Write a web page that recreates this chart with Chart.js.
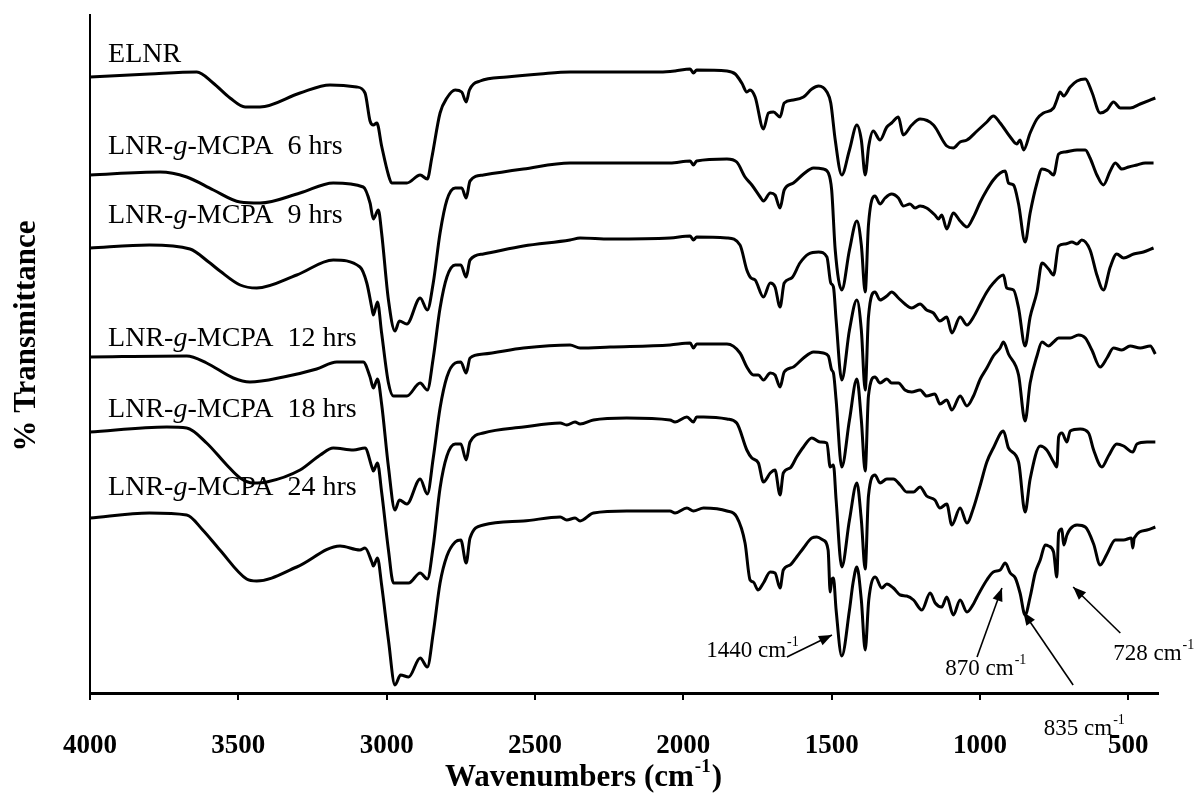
<!DOCTYPE html>
<html>
<head>
<meta charset="utf-8">
<script src="https://cdn.jsdelivr.net/npm/chart.js@4.4.0/dist/chart.umd.min.js"></script>
<style>
  html, body { margin: 0; padding: 0; background: #fff; }
  #wrap { width: 1198px; height: 793px; }
</style>
</head>
<body>
<div id="wrap"><canvas id="ftir" width="1198" height="793"></canvas></div>
<script>
// FTIR spectra, stacked. Each series: [wavenumber (cm-1), signal (a.u., offset per trace)]
const tickValues = [4000, 3500, 3000, 2500, 2000, 1500, 1000, 500];
const seriesNames = ['ELNR', 'LNR-g-MCPA  6 hrs', 'LNR-g-MCPA  9 hrs',
  'LNR-g-MCPA  12 hrs', 'LNR-g-MCPA  18 hrs', 'LNR-g-MCPA  24 hrs'];

const elnr = [[4000,616],[3800,619],[3640,621],[3585,610],[3528,595],[3477,586],[3427,586],[3292,600],
  [3191,608],[3101,606],[3073,600],[3056,572],[3045,568],[3033,570],[3017,547],[2994,518],[2983,510],
  [2932,510],[2887,518],[2863,514],[2848,535],[2820,580],[2797,595],[2769,603],[2747,601],[2732,591],
  [2721,603],[2685,612],[2595,616],[2483,619],[2382,621],[2247,621],[2078,621],[2028,622],[1977,624],
  [1966,620],[1955,623],[1853,622],[1825,619],[1803,610],[1786,601],[1775,603],[1758,596],[1730,564],
  [1713,580],[1696,581],[1674,576],[1660,590],[1629,593],[1595,596],[1567,604],[1544,607],[1516,601],
  [1503,590],[1488,553],[1466,518],[1440,543],[1415,568],[1400,553],[1387,518],[1375,547],[1360,562],
  [1337,553],[1314,566],[1298,570],[1275,576],[1259,558],[1230,568],[1202,574],[1157,568],[1112,547],
  [1090,545],[1067,551],[1044,553],[1010,562],[977,571],[955,577],[932,570],[898,556],[876,549],
  [865,553],[853,543],[831,560],[808,574],[786,580],[752,585],[741,593],[730,601],[718,597],[696,606],
  [673,612],[645,614],[623,601],[595,580],[572,583],[550,591],[527,585],[494,585],[460,589],[426,593],
  [409,595]];

const mcpa6h = [[4000,518],[3764,521],[3674,516],[3584,503],[3494,491],[3427,490],[3292,500],[3180,510],
  [3079,506],[3056,490],[3045,474],[3028,483],[3017,460],[2994,393],[2972,362],[2957,372],[2932,369],
  [2887,395],[2863,383],[2843,410],[2820,460],[2797,493],[2769,505],[2747,505],[2732,495],[2719,512],
  [2674,518],[2539,524],[2382,530],[2247,530],[2045,530],[1977,532],[1966,528],[1955,532],[1853,534],
  [1820,531],[1792,516],[1769,508],[1741,496],[1730,492],[1707,500],[1691,498],[1674,485],[1660,503],
  [1629,510],[1595,519],[1561,525],[1528,524],[1511,520],[1500,503],[1488,443],[1466,403],[1440,443],
  [1415,472],[1400,448],[1387,401],[1376,468],[1354,497],[1337,489],[1320,495],[1298,499],[1275,495],
  [1258,487],[1236,489],[1219,485],[1202,487],[1180,485],[1152,478],[1140,474],[1129,478],[1112,464],
  [1090,480],[1067,472],[1044,466],[1022,476],[999,491],[977,503],[955,513],[932,520],[915,522],
  [904,510],[887,508],[870,489],[848,451],[831,480],[808,510],[791,524],[769,522],[752,518],[735,539],
  [713,541],[673,543],[645,543],[629,535],[606,518],[584,508],[561,522],[544,530],[522,524],[499,526],
  [471,528],[443,530],[415,530]];

const mcpa9h = [[4000,445],[3800,448],[3663,444],[3600,431],[3562,422],[3494,408],[3438,405],[3303,418],
  [3180,433],[3090,426],[3067,410],[3050,385],[3045,378],[3031,391],[3017,360],[2994,310],[2977,297],
  [2932,297],[2887,310],[2863,303],[2843,335],[2820,385],[2797,416],[2769,428],[2750,428],[2732,416],
  [2719,433],[2674,439],[2539,447],[2382,453],[2348,455],[2247,454],[2045,455],[1977,457],[1966,453],
  [1955,456],[1853,455],[1809,448],[1786,423],[1772,415],[1758,413],[1730,396],[1707,410],[1691,406],
  [1674,386],[1660,410],[1635,415],[1607,430],[1578,439],[1544,441],[1516,436],[1503,410],[1494,406],
  [1485,373],[1466,313],[1440,363],[1415,393],[1400,363],[1387,303],[1376,376],[1354,401],[1337,393],
  [1314,397],[1298,401],[1275,395],[1253,389],[1230,385],[1202,389],[1180,383],[1157,380],[1135,372],
  [1112,376],[1095,360],[1067,376],[1044,368],[1022,376],[999,389],[977,401],[955,410],[921,418],
  [910,405],[887,403],[870,385],[848,347],[831,376],[808,401],[791,430],[769,424],[752,418],[735,447],
  [713,449],[690,451],[673,449],[657,453],[629,443],[606,418],[584,403],[561,426],[539,439],[516,435],
  [482,439],[449,441],[415,445]];

const mcpa12h = [[4000,336],[3674,337],[3607,330],[3517,315],[3461,311],[3348,316],[3236,324],[3168,331],
  [3079,331],[3056,316],[3045,305],[3031,314],[3017,289],[2994,226],[2972,183],[2957,193],[2932,189],
  [2887,214],[2863,199],[2843,235],[2820,285],[2797,316],[2769,330],[2750,331],[2732,320],[2719,335],
  [2674,339],[2539,345],[2382,348],[2348,345],[2247,346],[2045,348],[1977,350],[1966,345],[1955,349],
  [1853,349],[1809,340],[1786,326],[1764,318],[1747,318],[1730,313],[1707,320],[1691,318],[1674,306],
  [1660,321],[1629,326],[1595,335],[1561,341],[1528,340],[1511,337],[1500,323],[1494,320],[1485,293],
  [1466,226],[1440,273],[1415,314],[1400,273],[1387,222],[1376,297],[1354,316],[1337,310],[1314,314],
  [1298,310],[1275,310],[1253,303],[1230,301],[1202,303],[1180,297],[1152,299],[1135,289],[1112,293],
  [1095,283],[1067,297],[1044,287],[1022,297],[999,314],[977,325],[955,337],[932,345],[921,351],
  [904,339],[870,318],[848,272],[831,310],[808,337],[791,351],[769,347],[752,351],[735,355],[696,355],
  [668,358],[645,355],[623,343],[595,326],[572,335],[550,345],[522,343],[494,347],[460,345],[426,347],
  [409,339]];

const mcpa18h = [[4000,261],[3741,266],[3674,265],[3607,250],[3539,228],[3494,215],[3449,210],[3404,211],
  [3292,223],[3224,238],[3180,245],[3112,243],[3073,245],[3050,226],[3045,222],[3031,230],[3017,201],
  [2994,143],[2977,110],[2926,110],[2887,120],[2863,114],[2843,147],[2820,205],[2797,237],[2769,249],
  [2750,249],[2732,233],[2719,251],[2674,260],[2539,266],[2415,270],[2393,268],[2365,271],[2348,269],
  [2303,273],[2191,275],[2045,273],[2028,271],[1988,276],[1966,271],[1955,276],[1932,276],[1853,274],
  [1820,270],[1786,243],[1769,235],[1747,230],[1730,211],[1707,220],[1691,223],[1674,198],[1663,220],
  [1640,225],[1618,236],[1595,246],[1567,255],[1539,251],[1516,250],[1505,226],[1494,228],[1485,193],
  [1466,126],[1440,173],[1415,210],[1400,173],[1387,124],[1376,197],[1354,218],[1337,210],[1314,214],
  [1292,214],[1269,208],[1247,201],[1224,201],[1202,206],[1180,197],[1152,193],[1135,185],[1112,189],
  [1095,168],[1067,185],[1044,170],[1022,185],[999,208],[977,231],[955,245],[921,262],[904,245],
  [870,231],[848,181],[831,214],[797,247],[775,243],[752,231],[741,226],[735,256],[724,260],[707,251],
  [696,262],[662,264],[634,260],[617,243],[589,226],[567,237],[539,249],[516,247],[485,241],[471,249],
  [437,251],[409,251]];

const mcpa24h = [[4000,175],[3800,180],[3674,178],[3620,163],[3562,143],[3472,114],[3438,112],[3303,126],
  [3157,147],[3090,143],[3073,145],[3050,131],[3045,127],[3031,135],[3017,108],[2994,53],[2972,8],
  [2953,18],[2926,16],[2887,35],[2863,26],[2843,60],[2820,110],[2797,137],[2769,151],[2750,153],
  [2732,130],[2719,155],[2674,168],[2539,172],[2415,176],[2393,173],[2365,175],[2348,172],[2303,180],
  [2191,182],[2045,182],[2028,180],[1988,185],[1966,182],[1932,185],[1853,182],[1820,176],[1792,150],
  [1775,113],[1764,111],[1748,103],[1730,110],[1707,121],[1691,120],[1674,105],[1663,123],[1640,128],
  [1618,136],[1595,145],[1567,155],[1550,156],[1529,153],[1512,143],[1505,101],[1500,113],[1494,115],
  [1485,83],[1466,37],[1440,83],[1428,110],[1415,126],[1400,93],[1387,43],[1375,93],[1353,116],
  [1331,105],[1314,109],[1292,105],[1269,98],[1247,97],[1224,93],[1196,83],[1168,100],[1151,90],
  [1129,86],[1112,96],[1090,78],[1067,93],[1044,81],[1022,89],[1010,96],[977,113],[955,121],[932,123],
  [915,130],[898,120],[881,115],[865,100],[848,78],[831,96],[814,120],[797,133],[780,148],[769,147],
  [752,141],[741,116],[735,160],[724,164],[718,148],[707,158],[696,164],[673,168],[645,166],[617,149],
  [595,128],[572,139],[544,153],[516,153],[490,155],[485,145],[480,155],[437,163],[409,166]];

const allSeries = [elnr, mcpa6h, mcpa9h, mcpa12h, mcpa18h, mcpa24h];

// ---- layout / styling (not data) ----
const SERIF = "'Liberation Serif', 'Times New Roman', serif";
const LABEL_X_WN = 3939;                       // where trace names start
const labelBaselines = [631, 539, 470, 347, 276, 198];
const notes = [
  { text: '1440 cm', at: [1923, 36], from: [1651, 36], to: [1499, 58] },
  { text: '870 cm',  at: [1117, 18], from: [1010, 36], to: [926, 105] },
  { text: '835 cm',  at: [785, -42], from: [686, 8],   to: [854, 81] },
  { text: '728 cm',  at: [551, 33],  from: [527, 60],  to: [686, 106] }
];

function drawName(ctx, name, px, py) {
  const size = 28;
  const parts = name.split('-g-');
  ctx.font = size + 'px ' + SERIF;
  if (parts.length === 1) { ctx.fillText(name, px, py); return; }
  let cx = px;
  const head = parts[0] + '-';
  ctx.fillText(head, cx, py);
  cx += ctx.measureText(head).width;
  ctx.font = 'italic ' + size + 'px ' + SERIF;
  ctx.fillText('g', cx, py);
  cx += ctx.measureText('g').width;
  ctx.font = size + 'px ' + SERIF;
  ctx.fillText('-' + parts[1], cx, py);
}

function drawArrow(ctx, x1, y1, x2, y2) {
  ctx.lineWidth = 1.6;
  ctx.beginPath();
  ctx.moveTo(x1, y1);
  ctx.lineTo(x2, y2);
  ctx.stroke();
  const a = Math.atan2(y2 - y1, x2 - x1);
  const len = 14, half = 0.38;
  ctx.beginPath();
  ctx.moveTo(x2, y2);
  ctx.lineTo(x2 - len * Math.cos(a - half), y2 - len * Math.sin(a - half));
  ctx.lineTo(x2 - len * Math.cos(a + half), y2 - len * Math.sin(a + half));
  ctx.closePath();
  ctx.fill();
}

const textPlugin = {
  id: 'ftirText',
  afterDraw(chart) {
    const { ctx, scales: { x, y }, chartArea } = chart;
    ctx.save();
    ctx.fillStyle = '#000';
    ctx.strokeStyle = '#000';
    ctx.textBaseline = 'alphabetic';
    ctx.textAlign = 'left';

    // trace names
    seriesNames.forEach((name, i) => {
      drawName(ctx, name, x.getPixelForValue(LABEL_X_WN), y.getPixelForValue(labelBaselines[i]));
    });

    // band annotations with arrows
    notes.forEach(n => {
      const tx = x.getPixelForValue(n.at[0]), ty = y.getPixelForValue(n.at[1]);
      ctx.font = '23px ' + SERIF;
      ctx.fillText(n.text, tx, ty);
      const w = ctx.measureText(n.text).width;
      ctx.font = '14px ' + SERIF;
      ctx.fillText('-1', tx + w + 1, ty - 11);
      drawArrow(ctx, x.getPixelForValue(n.from[0]), y.getPixelForValue(n.from[1]),
        x.getPixelForValue(n.to[0]), y.getPixelForValue(n.to[1]));
    });

    // x axis title with superscript
    const bx = chartArea.left + 355, by = 786;
    ctx.font = 'bold 31px ' + SERIF;
    const t1 = 'Wavenumbers (cm';
    ctx.fillText(t1, bx, by);
    let cx = bx + ctx.measureText(t1).width + 1;
    ctx.font = 'bold 19px ' + SERIF;
    ctx.fillText('-1', cx, by - 14);
    cx += ctx.measureText('-1').width + 1;
    ctx.font = 'bold 31px ' + SERIF;
    ctx.fillText(')', cx, by);

    // y axis title
    ctx.translate(27, 336);
    ctx.rotate(-Math.PI / 2);
    ctx.textAlign = 'center';
    ctx.textBaseline = 'middle';
    ctx.font = 'bold 31px ' + SERIF;
    ctx.fillText('% Transmittance', 0, 0);
    ctx.restore();
  }
};

new Chart(document.getElementById('ftir'), {
  type: 'line',
  data: {
    datasets: allSeries.map((s, i) => ({
      label: seriesNames[i],
      data: s.map(p => ({ x: p[0], y: p[1] })),
      borderColor: '#000',
      borderWidth: 3,
      pointRadius: 0,
      fill: false,
      cubicInterpolationMode: 'monotone',
      borderJoinStyle: 'round'
    }))
  },
  options: {
    responsive: false,
    animation: false,
    devicePixelRatio: 1,
    layout: { padding: { top: 15, right: 40, bottom: 0, left: 0 } },
    plugins: { legend: { display: false }, tooltip: { enabled: false } },
    scales: {
      x: {
        type: 'linear',
        reverse: true,
        min: 400,
        max: 4000,
        afterBuildTicks: s => { s.ticks = tickValues.map(v => ({ value: v })); },
        afterFit: s => { s.height = 100; },
        ticks: {
          autoSkip: false,
          maxRotation: 0,
          padding: 30,
          color: '#000',
          font: { family: SERIF, size: 27, weight: 'bold' },
          callback: v => String(v)
        },
        grid: { display: true, drawOnChartArea: false, drawTicks: true, tickLength: 7, color: '#000', lineWidth: 2 },
        border: { display: true, color: '#000', width: 3 }
      },
      y: {
        type: 'linear',
        min: 0,
        max: 678,
        afterFit: s => { s.width = 90; },
        ticks: { display: false },
        grid: { display: false },
        border: { display: true, color: '#000', width: 2 }
      }
    }
  },
  plugins: [textPlugin]
});
</script>
</body>
</html>
